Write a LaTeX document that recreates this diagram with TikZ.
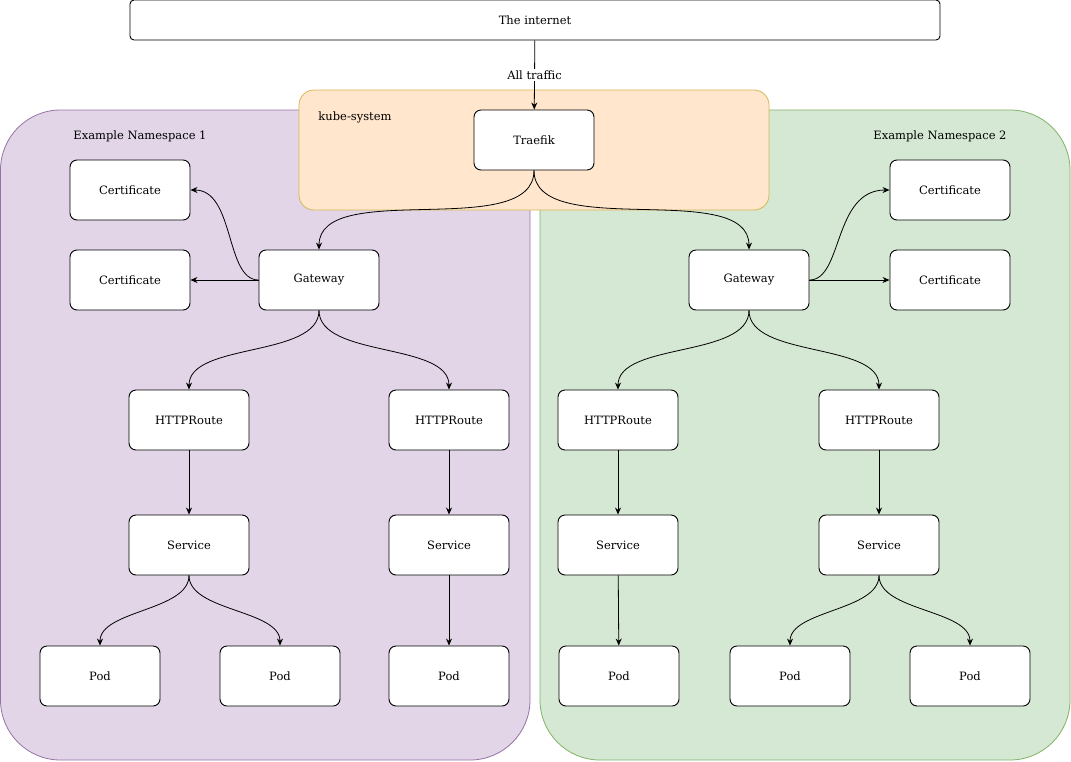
\documentclass[tikz,border=0pt]{standalone}
\usepackage{fontspec}
\setmainfont{DejaVu Serif}
\usetikzlibrary{arrows.meta,positioning}
\definecolor{NsOneFill}{HTML}{E1D5E7}
\definecolor{NsOneDraw}{HTML}{9673A6}
\definecolor{NsTwoFill}{HTML}{D5E8D4}
\definecolor{NsTwoDraw}{HTML}{82B366}
\definecolor{KubeFill}{HTML}{FFE6CC}
\definecolor{KubeDraw}{HTML}{D6B656}
\begin{document}
\begin{tikzpicture}[
		x=1pt, y=-1pt,
		font=\fontsize{11.5}{13}\selectfont,
		box/.style={draw, line width=0.9pt, fill=white, rounded corners=7pt, minimum width=120pt, minimum height=60pt, inner sep=0pt},
		link/.style={-{Stealth[length=7pt,width=6pt]}, line width=0.8pt},
		curve/.style={link, out=-90, in=90, looseness=0.8}
	]
		\useasboundingbox (0,0) rectangle (1071,761);

		% namespaces
		\draw[fill=NsOneFill, draw=NsOneDraw, line width=0.8pt, rounded corners=60pt] (0.5,110) rectangle (530,760);
		\draw[fill=NsTwoFill, draw=NsTwoDraw, line width=0.8pt, rounded corners=60pt] (540,110) rectangle (1070,760);
		\draw[fill=KubeFill, draw=KubeDraw, line width=0.8pt, rounded corners=15pt] (299,90) rectangle (769,210);
		\node (nsone) at (140,136) {Example Namespace 1};
		\node (nstwo) at (940,136) {Example Namespace 2};
		\node (kube) at (355,117) {kube-system};

		\node[box, minimum width=810pt, minimum height=40pt, rounded corners=4pt] (internet) at (535,20) {The internet};
		\node[box] (traefik) at (534,140) {Traefik};

		% namespace 1
		\node[box] (gwone) at (319,280) {Gateway};
		\node[box] (certonea) at (130,190) {Certificate};
		\node[box] (certoneb) at (130,280) {Certificate};
		\node[box] (routeonea) at (189,420) {HTTPRoute};
		\node[box] (routeoneb) at (449,420) {HTTPRoute};
		\node[box] (svconea) at (189,545) {Service};
		\node[box] (svconeb) at (449,545) {Service};
		\node[box] (podonea) at (100,676) {Pod};
		\node[box] (podoneb) at (280,676) {Pod};
		\node[box] (podonec) at (449,676) {Pod};

		% namespace 2
		\node[box] (gwtwo) at (749,280) {Gateway};
		\node[box] (certtwoa) at (950,190) {Certificate};
		\node[box] (certtwob) at (950,280) {Certificate};
		\node[box] (routetwoa) at (618,420) {HTTPRoute};
		\node[box] (routetwob) at (879,420) {HTTPRoute};
		\node[box] (svctwoa) at (618,545) {Service};
		\node[box] (svctwob) at (879,545) {Service};
		\node[box] (podtwoa) at (619,676) {Pod};
		\node[box] (podtwob) at (790,676) {Pod};
		\node[box] (podtwoc) at (970,676) {Pod};

		\draw[link] (internet) -- node[fill=white, inner sep=2pt, pos=0.5] (traffic) {All traffic} (traefik);
		\draw[curve] (traefik.south) to (gwone.north);
		\draw[curve] (traefik.south) to (gwtwo.north);

		\draw[link] (gwone.west) .. controls (225,280) and (235,190) .. (certonea.east);
		\draw[link] (gwone) -- (certoneb);
		\draw[link] (gwtwo.east) .. controls (843,280) and (833,190) .. (certtwoa.west);
		\draw[link] (gwtwo) -- (certtwob);

		\draw[curve] (gwone.south) to (routeonea.north);
		\draw[curve] (gwone.south) to (routeoneb.north);
		\draw[curve] (gwtwo.south) to (routetwoa.north);
		\draw[curve] (gwtwo.south) to (routetwob.north);

		\draw[link] (routeonea) -- (svconea);
		\draw[link] (routeoneb) -- (svconeb);
		\draw[link] (routetwoa) -- (svctwoa);
		\draw[link] (routetwob) -- (svctwob);

		\draw[curve] (svconea.south) to (podonea.north);
		\draw[curve] (svconea.south) to (podoneb.north);
		\draw[link] (svconeb) -- (podonec);
		\draw[link] (svctwoa) -- (podtwoa);
		\draw[curve] (svctwob.south) to (podtwob.north);
		\draw[curve] (svctwob.south) to (podtwoc.north);
	\end{tikzpicture}
\end{document}
